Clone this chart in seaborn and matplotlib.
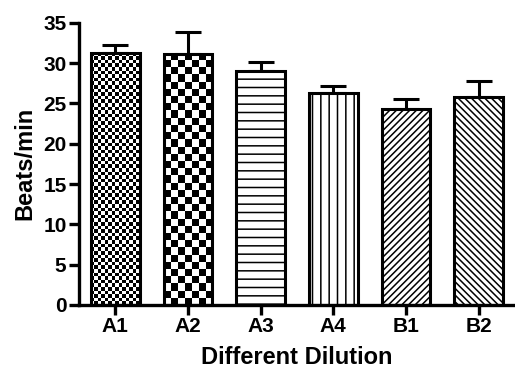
#!/usr/bin/env python3
"""
Beats per minute for each dilution, GraphPad style bar chart
"""

import numpy as np
import pandas as pd
import matplotlib
matplotlib.use("Agg")
import matplotlib.pyplot as plt
import seaborn as sns

# values
dilutions = ["A1", "A2", "A3", "A4", "B1", "B2"]
beats_mean = [31.3, 31.1, 29.0, 26.3, 24.3, 25.8]
beats_sem = [0.9, 2.7, 1.1, 0.8, 1.3, 2.0]
hatches = ["checker_fine", "checker_coarse", "--", "||", "/////", "\\\\\\\\\\"]

sns.set_style("ticks")
plt.rcParams["font.family"] = ["Liberation Sans", "DejaVu Sans"]
plt.rcParams["font.weight"] = "bold"
plt.rcParams["hatch.linewidth"] = 1.1
plt.rcParams["hatch.color"] = "black"
for key in ["text.color", "axes.labelcolor", "xtick.color", "ytick.color",
            "axes.edgecolor"]:
    plt.rcParams[key] = "black"

df = pd.DataFrame({"dilution": dilutions, "beats": beats_mean})

fig = plt.figure(figsize=(5.15, 3.7), dpi=100)
ax = fig.add_axes([0.1534, 0.1757, 0.8466, 0.763])

sns.barplot(data=df, x="dilution", y="beats", color="white", saturation=1,
            edgecolor="black", linewidth=2.2, width=0.67, errorbar=None, ax=ax)

# upper-only error bars
ax.errorbar(np.arange(len(dilutions)), beats_mean,
            yerr=[np.zeros(len(beats_sem)), beats_sem],
            fmt="none", ecolor="black", elinewidth=2.2, capsize=9.5,
            capthick=2.2, zorder=0.8)

ax.set_xlim(-0.5, len(dilutions) - 0.5)
ax.set_ylim(0, 35)
ax.set_yticks(np.arange(0, 36, 5))

# pixel scale of the data axes, used to size the checker cells
ax_w_px = 0.8466 * 515
ax_h_px = 0.763 * 370
px_x = ax_w_px / len(dilutions)
px_y = ax_h_px / 35

for bar, h in zip(ax.patches, hatches):
    if h.startswith("checker"):
        cell_px = 3.6 if h == "checker_fine" else 7.2
        x0, w, top = bar.get_x(), bar.get_width(), bar.get_height()
        cols = int(round(w * px_x / cell_px))
        rows = int(np.ceil(top * px_y / cell_px))
        grid = np.indices((rows, cols)).sum(axis=0) % 2
        cell_h = cell_px / px_y
        im = ax.imshow(grid, cmap="gray_r", interpolation="nearest",
                       extent=(x0, x0 + w, 0, rows * cell_h), origin="lower",
                       aspect="auto", zorder=0.9)
        im.set_clip_path(bar)
        bar.set_facecolor("none")
        bar.set_zorder(1)
    else:
        bar.set_hatch(h)

ax.set_xlim(-0.5, len(dilutions) - 0.5)
ax.set_ylim(0, 35)

sns.despine(ax=ax)
for side in ["left", "bottom"]:
    ax.spines[side].set_linewidth(2.4)
ax.tick_params(axis="both", width=2.4, length=7, labelsize=15, pad=2)
for lab in ax.get_xticklabels() + ax.get_yticklabels():
    lab.set_fontweight("bold")

ax.set_xlabel("Different Dilution", fontsize=17, fontweight="bold", labelpad=7)
ax.set_ylabel("Beats/min", fontsize=17, fontweight="bold", labelpad=5)

fig.savefig("out.png", dpi=100)
plt.close(fig)
